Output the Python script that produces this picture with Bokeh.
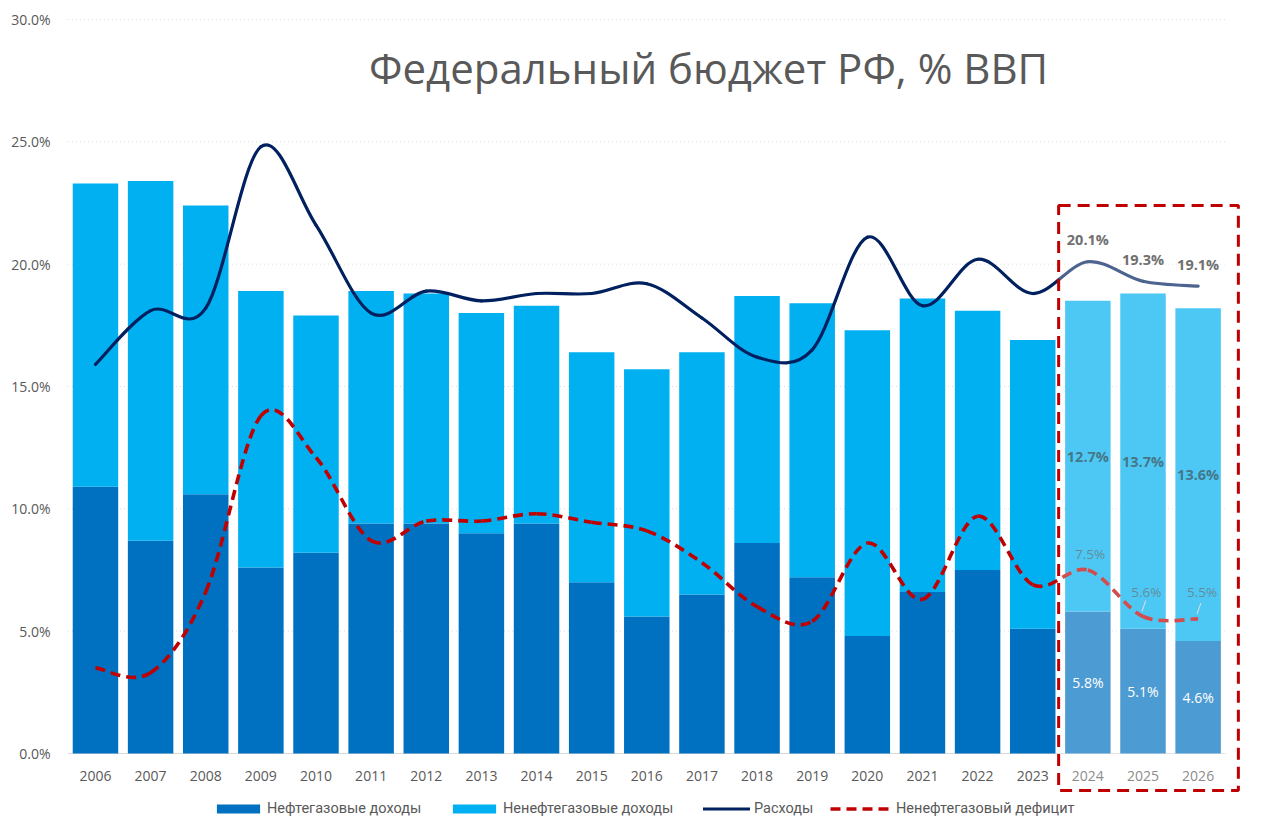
import numpy as np
from bokeh.plotting import figure
from bokeh.models import (ColumnDataSource, FixedTicker, PrintfTickFormatter,
                          Legend, LegendItem, Label, Range1d)
from bokeh.core.properties import value
from bokeh.embed import file_html
from bokeh.resources import INLINE

# ---------------- data ----------------
years = [str(y) for y in range(2006, 2027)]
oil_gas_revenue = [10.9, 8.7, 10.6, 7.6, 8.2, 9.4, 9.4, 9.0, 9.4, 7.0, 5.6,
                   6.5, 8.6, 7.2, 4.8, 6.6, 7.5, 5.1, 5.8, 5.1, 4.6]
non_oil_gas_revenue = [12.4, 14.7, 11.8, 11.3, 9.7, 9.5, 9.4, 9.0, 8.9, 9.4, 10.1,
                       9.9, 10.1, 11.2, 12.5, 12.0, 10.6, 11.8, 12.7, 13.7, 13.6]
expenditure = [15.9, 18.1, 18.2, 24.8, 21.6, 18.0, 18.9, 18.5, 18.8, 18.8, 19.2,
               17.8, 16.2, 16.5, 21.1, 18.3, 20.2, 18.8, 20.1, 19.3, 19.1]
non_oil_gas_deficit = [3.5, 3.3, 6.6, 13.8, 12.1, 8.7, 9.5, 9.5, 9.8, 9.45, 9.1,
                       7.8, 6.0, 5.4, 8.6, 6.3, 9.7, 6.9, 7.5, 5.6, 5.5]
forecast_years = ["2024", "2025", "2026"]
y_ticks = [0, 5, 10, 15, 20, 25, 30]

title_text = "Федеральный бюджет РФ, % ВВП"
legend_labels = ["Нефтегазовые доходы", "Ненефтегазовые доходы", "Расходы",
                 "Ненефтегазовый дефицит"]

# ---------------- styles ----------------
C_OIL = "#0070C0"
C_NONOIL = "#00B0F0"
C_EXP = "#002060"
C_DEF = "#C00000"
C_TEXT = "#595959"
C_GRID = "#D9D9D9"
FONT = "Open Sans"

n = len(years)
idx = np.arange(n, dtype=float)
f0 = years.index(forecast_years[0])


def catmull_rom(xs, ys):
    xs = np.asarray(xs, float)
    ys = np.asarray(ys, float)
    m = len(xs)
    qx = np.concatenate([[xs[0]], xs, [xs[-1]]])
    qy = np.concatenate([[ys[0]], ys, [ys[-1]]])
    return dict(
        x0=xs[:-1], y0=ys[:-1], x1=xs[1:], y1=ys[1:],
        cx0=xs[:-1] + (qx[2:m + 1] - qx[0:m - 1]) / 6.0,
        cy0=ys[:-1] + (qy[2:m + 1] - qy[0:m - 1]) / 6.0,
        cx1=xs[1:] - (qx[3:m + 2] - qx[1:m]) / 6.0,
        cy1=ys[1:] - (qy[3:m + 2] - qy[1:m]) / 6.0,
    )


p = figure(width=1280, height=835, output_backend="svg", toolbar_location=None,
           x_range=Range1d(-0.598, 20.95), y_range=Range1d(-3.147, 30.572),
           x_axis_location=None, min_border_left=62, min_border_right=30,
           min_border_top=5, min_border_bottom=5)
p.outline_line_color = None
p.xgrid.visible = False
p.ygrid.visible = False
p.background_fill_color = "white"
p.border_fill_color = "white"

yax = p.yaxis[0]
yax.ticker = FixedTicker(ticks=y_ticks)
yax.formatter = PrintfTickFormatter(format="%.1f%%")
yax.axis_line_color = None
yax.major_tick_line_color = None
yax.minor_tick_line_color = None
yax.major_label_standoff = 6
yax.major_label_text_font = FONT
yax.major_label_text_font_size = "14px"
yax.major_label_text_color = C_TEXT

# gridlines
grid_vals = [t for t in y_ticks if t > 0]
p.segment(x0=[-0.5] * len(grid_vals), x1=[n - 0.5] * len(grid_vals),
          y0=grid_vals, y1=grid_vals, line_color=C_GRID, line_width=1,
          line_dash="1 3")
p.segment(x0=[-0.5], x1=[n - 0.5], y0=[y_ticks[0]], y1=[y_ticks[0]],
          line_color=C_GRID, line_width=1)

# bars
src = ColumnDataSource(dict(x=idx, oil=oil_gas_revenue, nonoil=non_oil_gas_revenue))
bars = p.vbar_stack(["oil", "nonoil"], x="x", width=0.825, source=src,
                    color=[C_OIL, C_NONOIL], line_color=None)

# year labels
p.text(x=idx, y=[-0.9] * n, text=years, text_align="center",
       text_baseline="middle", text_font=value(FONT),
       text_font_size="14px", text_color=C_TEXT)

# lines
exp_r = p.bezier(source=ColumnDataSource(catmull_rom(idx, expenditure)),
                 x0="x0", y0="y0", x1="x1", y1="y1", cx0="cx0", cy0="cy0",
                 cx1="cx1", cy1="cy1", line_color=C_EXP, line_width=3.2,
                 line_cap="round")
def_r = p.bezier(source=ColumnDataSource(catmull_rom(idx, non_oil_gas_deficit)),
                 x0="x0", y0="y0", x1="x1", y1="y1", cx0="cx0", cy0="cy0",
                 cx1="cx1", cy1="cy1", line_color=C_DEF, line_width=3.6,
                 line_dash="10 6")

# forecast overlay box
p.quad(left=[f0 - 0.53], right=[n - 1 + 0.73], bottom=[-1.51], top=[22.4],
       fill_color="white", fill_alpha=0.3, line_color=C_DEF, line_width=3,
       line_dash="12 7")

# forecast labels
fx = idx[f0:]
f_oil = oil_gas_revenue[f0:]
f_non = non_oil_gas_revenue[f0:]
f_exp = expenditure[f0:]
f_def = non_oil_gas_deficit[f0:]
fmt = lambda vs: [f"{v:.1f}%" for v in vs]

p.text(x=fx, y=[v / 2 for v in f_oil], text=fmt(f_oil), text_align="center",
       text_baseline="middle", text_font=value(FONT), text_font_size="14px",
       text_color="white")
p.text(x=fx, y=[o + v / 2 for o, v in zip(f_oil, f_non)], text=fmt(f_non),
       text_align="center", text_baseline="middle", text_font=value(FONT),
       text_font_size="14.5px", text_font_style="bold", text_color="#404040",
       text_alpha=0.62)
p.text(x=fx, y=f_exp, text=fmt(f_exp), text_align="center",
       text_baseline="middle", y_offset=-22, text_font=value(FONT),
       text_font_size="14.5px", text_font_style="bold", text_color="#707070")
def_dx = [0.04, 0.06, 0.07]
def_dy = [-16, -24, -27]
p.text(x=[x + d for x, d in zip(fx, def_dx)], y=f_def, text=fmt(f_def),
       text_align="center", text_baseline="middle", y_offset=def_dy,
       text_font=value(FONT), text_font_size="13.5px", text_color="#6F6F6F",
       text_alpha=0.7)
# leader lines for the two lower deficit labels
p.segment(x0=[x + 0.05 for x in fx[1:]], y0=[v + 0.65 for v in f_def[1:]],
          x1=[x - 0.02 for x in fx[1:]], y1=[v + 0.2 for v in f_def[1:]],
          line_color="#E0E0E0", line_width=1)

# title
p.add_layout(Label(x=11.12, y=28.04, text=title_text, text_align="center",
                   text_baseline="middle", text_font=FONT,
                   text_font_size="42px", text_color=C_TEXT))

# legends (one per item for exact placement)
def add_legend(label, r, x, gw, gh, standoff):
    leg = Legend(items=[LegendItem(label=label, renderers=[r])],
                 location=(x, 13), orientation="horizontal",
                 glyph_width=gw, glyph_height=gh, label_standoff=standoff,
                 padding=0, margin=0, spacing=0, border_line_color=None,
                 background_fill_alpha=0, label_text_font="Roboto",
                 label_text_font_size="14.5px", label_text_color=C_TEXT,
                 label_height=16)
    p.add_layout(leg)

add_legend(legend_labels[0], bars[0], 149, 54, 11, 2)
add_legend(legend_labels[1], bars[1], 385, 54, 11, 2)
add_legend(legend_labels[2], exp_r, 641, 47, 11, 4)
add_legend(legend_labels[3], def_r, 768, 62, 11, 4)

open("out.html", "w").write(file_html(p, INLINE))
